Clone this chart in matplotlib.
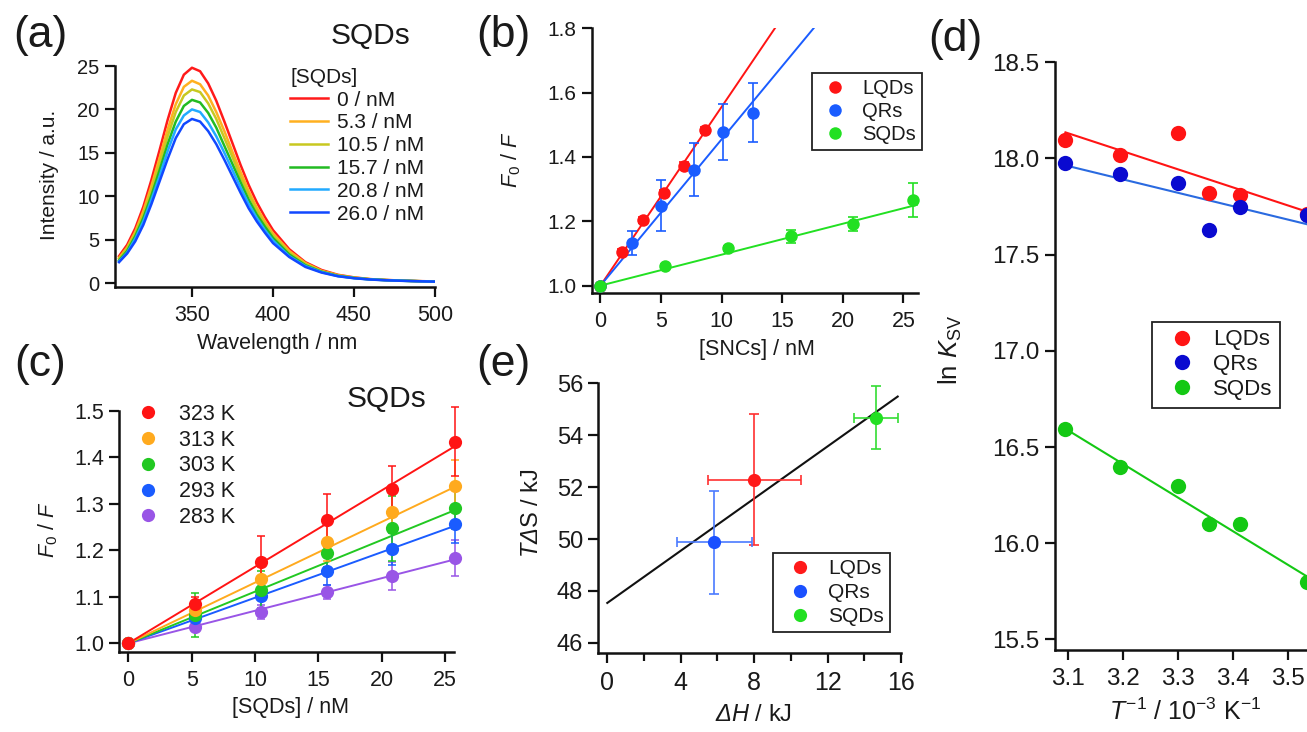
import numpy as np
import matplotlib
matplotlib.use('Agg')
import matplotlib.pyplot as plt
from matplotlib.ticker import MultipleLocator, FormatStrFormatter, FixedLocator

W, H = 1307, 732
plt.rcParams['font.family'] = ['Liberation Sans', 'DejaVu Sans']
plt.rcParams['mathtext.fontset'] = 'custom'
plt.rcParams['mathtext.rm'] = 'Liberation Sans:italic'
plt.rcParams['mathtext.it'] = 'Liberation Sans:italic'
plt.rcParams['mathtext.sf'] = 'Liberation Sans'

# ---------------- data ----------------
# (a) emission spectra of protein with SQDs
wavelength = [305, 310, 315, 320, 325, 330, 335, 340, 345, 350, 355, 360, 365, 370, 375,
              380, 385, 390, 395, 400, 410, 420, 430, 440, 450, 460, 470, 480, 490, 500]
conc_labels_a = ['0 / nM', '5.3 / nM', '10.5 / nM', '15.7 / nM', '20.8 / nM', '26.0 / nM']
intensity_0 = [3.1, 4.4, 6.3, 8.8, 11.9, 15.3, 18.8, 21.9, 24.0, 24.8, 24.4, 23.0, 21.0, 18.6, 16.1,
               13.6, 11.3, 9.3, 7.6, 6.1, 3.9, 2.4, 1.5, 0.95, 0.65, 0.45, 0.35, 0.28, 0.22, 0.18]
intensity_5 = [2.9, 4.1, 5.9, 8.3, 11.2, 14.4, 17.7, 20.6, 22.6, 23.3, 22.9, 21.6, 19.7, 17.5, 15.1,
               12.8, 10.6, 8.7, 7.1, 5.7, 3.7, 2.3, 1.4, 0.9, 0.62, 0.44, 0.34, 0.27, 0.21, 0.17]
intensity_10 = [2.8, 4.0, 5.7, 7.9, 10.7, 13.8, 16.9, 19.7, 21.6, 22.3, 22.0, 20.7, 18.9, 16.7, 14.5,
                12.2, 10.2, 8.4, 6.8, 5.5, 3.5, 2.2, 1.35, 0.88, 0.6, 0.43, 0.33, 0.27, 0.21, 0.17]
intensity_15 = [2.6, 3.7, 5.4, 7.5, 10.1, 13.0, 16.0, 18.6, 20.4, 21.1, 20.8, 19.6, 17.9, 15.8, 13.7,
                11.6, 9.6, 7.9, 6.5, 5.2, 3.3, 2.05, 1.3, 0.83, 0.58, 0.42, 0.33, 0.26, 0.21, 0.17]
intensity_20 = [2.5, 3.5, 5.1, 7.1, 9.6, 12.3, 15.2, 17.7, 19.3, 20.0, 19.7, 18.5, 16.9, 15.0, 13.0,
                11.0, 9.1, 7.5, 6.1, 4.9, 3.1, 1.95, 1.25, 0.8, 0.56, 0.41, 0.32, 0.26, 0.2, 0.16]
intensity_26 = [2.4, 3.4, 4.8, 6.7, 9.1, 11.7, 14.3, 16.7, 18.3, 18.9, 18.6, 17.5, 16.0, 14.2, 12.3,
                10.4, 8.6, 7.1, 5.8, 4.6, 3.0, 1.85, 1.2, 0.78, 0.55, 0.4, 0.31, 0.25, 0.2, 0.16]
spectra = [intensity_0, intensity_5, intensity_10, intensity_15, intensity_20, intensity_26]
colors_a = ['#ff1a1a', '#ffb020', '#c8c820', '#22bb22', '#22aaff', '#1148ff']

# (b) Stern-Volmer plots of three SNCs
names_b = ['LQDs', 'QRs', 'SQDs']
lqd_conc = [0, 1.8, 3.5, 5.2, 6.9, 8.6]
lqd_f0f = [1.0, 1.106, 1.204, 1.287, 1.373, 1.484]
lqd_err = [0.0, 0.008, 0.008, 0.01, 0.01, 0.01]
qr_conc = [0, 2.6, 5.0, 7.7, 10.1, 12.55]
qr_f0f = [1.0, 1.132, 1.249, 1.360, 1.479, 1.538]
qr_err = [0.0, 0.037, 0.079, 0.082, 0.087, 0.093]
sqd_conc = [0, 5.3, 10.5, 15.7, 20.8, 25.8]
sqd_f0f = [1.0, 1.062, 1.116, 1.154, 1.192, 1.266]
sqd_err = [0.0, 0.006, 0.008, 0.02, 0.022, 0.052]
ksv_b = [0.0556, 0.0455, 0.00962]   # fitted slopes (F0/F = 1 + K[Q])
colors_b = ['#ff1414', '#1a5cff', '#22e022']

# (c) SQDs at different temperatures
temps_c = ['323 K', '313 K', '303 K', '293 K', '283 K']
conc_c = [0, 5.3, 10.5, 15.7, 20.8, 25.8]
f0f_323 = [1.0, 1.084, 1.175, 1.264, 1.331, 1.433]
f0f_313 = [1.0, 1.072, 1.138, 1.217, 1.283, 1.338]
f0f_303 = [1.0, 1.061, 1.115, 1.195, 1.247, 1.290]
f0f_293 = [1.0, 1.054, 1.102, 1.155, 1.203, 1.256]
f0f_283 = [1.0, 1.036, 1.067, 1.111, 1.145, 1.184]
err_323 = [0.0, 0.016, 0.055, 0.058, 0.05, 0.074]
err_313 = [0.0, 0.02, 0.025, 0.04, 0.04, 0.056]
err_303 = [0.0, 0.047, 0.04, 0.03, 0.07, 0.045]
err_293 = [0.0, 0.02, 0.03, 0.03, 0.035, 0.04]
err_283 = [0.0, 0.01, 0.015, 0.015, 0.03, 0.039]
f0f_c = [f0f_323, f0f_313, f0f_303, f0f_293, f0f_283]
err_c = [err_323, err_313, err_303, err_293, err_283]
ksv_c = [0.01644, 0.01305, 0.01111, 0.0098, 0.0070]
colors_c = ['#ff1414', '#ffaa1e', '#22c822', '#1a5cff', '#9955e6']

# (d) van't Hoff plots
inv_T = [3.096, 3.195, 3.300, 3.356, 3.413, 3.534]
lnk_lqd = [18.095, 18.017, 18.13, 17.82, 17.81, 17.71]
lnk_qr = [17.974, 17.917, 17.87, 17.627, 17.75, 17.705]
lnk_sqd = [16.595, 16.396, 16.297, 16.10, 16.10, 15.80]
fit_slope_d = [-0.940, -0.697, -1.750]
fit_icpt_d = [21.046, 20.122, 22.013]
colors_d = ['#ff1414', '#0a0ad0', '#14c814']
line_colors_d = ['#ff1414', '#2a6ae0', '#14c814']

# (e) enthalpy-entropy compensation
dH = [8.0, 5.83, 14.62]
dH_err = [2.54, 2.04, 1.2]
TdS = [52.28, 49.87, 54.68]
TdS_err = [2.52, 2.0, 1.2]
fit_slope_e = 0.5025
fit_icpt_e = 47.54
colors_e = ['#ff1a1a', '#1a50ff', '#22e022']
err_colors_e = ['#ff3030', '#4a7aff', '#33dd33']

# ---------------- figure ----------------
fig = plt.figure(figsize=(W / 100, H / 100), dpi=100)
TXT = '#1a1a1a'


def axes_px(l, t, r, b):
    return fig.add_axes([l / W, 1 - b / H, (r - l) / W, (b - t) / H])


def ftext(px, py, s, size, **kw):
    kw.setdefault('ha', 'center')
    kw.setdefault('va', 'center')
    return fig.text(px / W, 1 - py / H, s, fontsize=size, color=TXT, **kw)


def style(ax, xfs, yfs):
    for s in ['top', 'right']:
        ax.spines[s].set_visible(False)
    for s in ['left', 'bottom']:
        ax.spines[s].set_linewidth(1.8)
        ax.spines[s].set_color('#111111')
    ax.tick_params(direction='out', length=7, width=1.6, color='#111111', labelcolor=TXT, pad=4)
    ax.tick_params(axis='x', labelsize=xfs, pad=6)
    ax.tick_params(axis='y', labelsize=yfs)
    ax.patch.set_alpha(0)


def leg_px(ax, handles, labels, px, py, size, **kw):
    leg = ax.legend(handles, labels, loc='upper left', bbox_to_anchor=(px / W, 1 - py / H),
                    bbox_transform=fig.transFigure, borderaxespad=0, fontsize=size,
                    fancybox=False, framealpha=1, edgecolor='#222222', **kw)
    leg.get_frame().set_linewidth(1.3)
    for t in leg.get_texts():
        t.set_color(TXT)
    return leg


# ---- (a)
ax = axes_px(115, 66, 435, 287)
lines = []
for y, c in zip(spectra, colors_a):
    ln, = ax.plot(wavelength, y, color=c, lw=1.8)
    lines.append(ln)
ax.set_xlim(302.5, 500)
ax.set_ylim(-0.46, 25)
ax.xaxis.set_major_locator(FixedLocator([350, 400, 450, 500]))
ax.yaxis.set_major_locator(MultipleLocator(5))
style(ax, 15.5, 14.5)
leg = ax.legend(lines, conc_labels_a, title='[SQDs]', loc='upper left',
                bbox_to_anchor=(290 / W, 1 - 68 / H), bbox_transform=fig.transFigure,
                borderaxespad=0, borderpad=0, frameon=False, fontsize=15, title_fontsize=15,
                handlelength=1.8, handletextpad=0.45, labelspacing=0.18, alignment='left')
for t in leg.get_texts():
    t.set_color(TXT)
leg.get_title().set_color(TXT)
ftext(370, 36, 'SQDs', 21.5)
ftext(50, 175, 'Intensity / a.u.', 15, rotation=90)
ftext(277, 343, 'Wavelength / nm', 15.5)
ftext(40, 36, '(a)', 32)

# ---- (b)
ax = axes_px(592, 28.3, 918, 293)
xx = np.array([0, 26.2])
for k, c in zip(ksv_b, colors_b):
    ax.plot(xx, 1 + k * xx, color=c, lw=1.4, zorder=2)
handles = []
for xs, ys, es, c in zip([lqd_conc, qr_conc, sqd_conc], [lqd_f0f, qr_f0f, sqd_f0f],
                         [lqd_err, qr_err, sqd_err], colors_b):
    ax.errorbar(xs, ys, yerr=es, fmt='none', ecolor=c, elinewidth=1.2, capsize=3.5,
                capthick=1.2, zorder=3, clip_on=False)
    h, = ax.plot(xs, ys, 'o', color=c, ms=9, mec='none', zorder=4, clip_on=False)
    handles.append(h)
ax.set_xlim(-0.7, 26.2)
ax.set_ylim(0.977, 1.8)
ax.xaxis.set_major_locator(MultipleLocator(5))
ax.yaxis.set_major_locator(MultipleLocator(0.2))
ax.yaxis.set_major_formatter(FormatStrFormatter('%.1f'))
style(ax, 15.5, 15)
leg_px(ax, handles, names_b, 811.7, 73.3, 14.5, borderpad=0.3, handlelength=1.75,
       handletextpad=0.45, labelspacing=0.2)
ftext(511, 160, r'$F_\mathsf{0}$ / $F$', 15.5, rotation=90)
ftext(757, 350, '[SNCs] / nM', 15.5)
ftext(503, 36, '(b)', 32)

# ---- (c)
ax = axes_px(119.3, 410.7, 454, 651.7)
xx = np.array([0, 25.8])
handles = []
for i in range(len(temps_c) - 1, -1, -1):
    ax.plot(xx, 1 + ksv_c[i] * xx, color=colors_c[i], lw=1.4, zorder=2)
for i in range(len(temps_c) - 1, -1, -1):
    c = colors_c[i]
    ax.errorbar(conc_c, f0f_c[i], yerr=err_c[i], fmt='none', ecolor=c, elinewidth=1.1,
                capsize=3, capthick=1.1, zorder=3, clip_on=False)
    h, = ax.plot(conc_c, f0f_c[i], 'o', color=c, ms=9.5, mec='none', zorder=4, clip_on=False)
    handles.insert(0, h)
ax.set_xlim(-0.71, 25.7)
ax.set_ylim(0.982, 1.5)
ax.xaxis.set_major_locator(MultipleLocator(5))
ax.yaxis.set_major_locator(MultipleLocator(0.1))
ax.yaxis.set_major_formatter(FormatStrFormatter('%.1f'))
style(ax, 15.5, 15.5)
leg = ax.legend(handles, temps_c, loc='upper left', bbox_to_anchor=(137.5 / W, 1 - 404 / H),
                bbox_transform=fig.transFigure, borderaxespad=0, borderpad=0, frameon=False,
                fontsize=15.5, handlelength=1.0, handletextpad=0.94, labelspacing=0.22)
for t in leg.get_texts():
    t.set_color(TXT)
ftext(386, 399, 'SQDs', 21.5)
ftext(48, 530, r'$F_\mathsf{0}$ / $F$', 15.5, rotation=90)
ftext(290, 708, '[SQDs] / nM', 15.5)
ftext(40, 365, '(c)', 32)

# ---- (e)
ax = axes_px(598.3, 383.3, 901, 653.3)
xx = np.array([0, 15.82])
ax.plot(xx, fit_icpt_e + fit_slope_e * xx, color='#111111', lw=1.5, zorder=2)
handles = []
for i in range(3):
    ax.errorbar(dH[i], TdS[i], xerr=dH_err[i], yerr=TdS_err[i], fmt='none',
                ecolor=err_colors_e[i], elinewidth=1.2, capsize=3.5, capthick=1.2, zorder=3)
    h, = ax.plot([dH[i]], [TdS[i]], 'o', color=colors_e[i], ms=9.5, mec='none', zorder=4)
    handles.append(h)
ax.set_xlim(-0.49, 16)
ax.set_ylim(45.6, 56)
ax.xaxis.set_major_locator(MultipleLocator(4))
ax.xaxis.set_minor_locator(MultipleLocator(2))
ax.yaxis.set_major_locator(MultipleLocator(2))
style(ax, 18, 17)
ax.tick_params(which='minor', direction='out', length=6, width=1.6, color='#111111')
leg_px(ax, handles, names_b, 772.7, 552.7, 15, borderpad=0.3, handlelength=2.0,
       handletextpad=0.35, labelspacing=0.24)
ftext(532, 513, r'$T\Delta$S / kJ', 17, rotation=90)
ftext(753, 715, r'$\Delta H$ / kJ', 17)
ftext(503, 365, '(e)', 32)

# ---- (d)
ax = axes_px(1055, 62.3, 1333, 650)
xx = np.array([inv_T[0], inv_T[-1]])
for s, b, c in zip(fit_slope_d, fit_icpt_d, line_colors_d):
    ax.plot(xx, b + s * xx, color=c, lw=1.5, zorder=2)
handles = []
for ys, c in zip([lnk_lqd, lnk_qr, lnk_sqd], colors_d):
    h, = ax.plot(inv_T, ys, 'o', color=c, ms=11, mec='none', zorder=4, clip_on=False)
    handles.append(h)
ax.set_xlim(3.077, 3.582)
ax.set_ylim(15.445, 18.5)
ax.xaxis.set_major_locator(FixedLocator([3.1, 3.2, 3.3, 3.4, 3.5]))
ax.xaxis.set_major_formatter(FormatStrFormatter('%.1f'))
ax.yaxis.set_major_locator(MultipleLocator(0.5))
ax.yaxis.set_major_formatter(FormatStrFormatter('%.1f'))
style(ax, 17.5, 17.5)
leg_px(ax, handles, names_b, 1151.7, 321.7, 16, borderpad=0.35, handlelength=2.0,
       handletextpad=0.4, labelspacing=0.17)
ftext(950, 350, r'ln $K_\mathsf{SV}$', 18.5, rotation=90)
ftext(1185, 712, r'$T^\mathsf{-1}$ / 10$^\mathsf{-3}$ K$^\mathsf{-1}$', 18)
ftext(955, 40, '(d)', 32)

fig.savefig('out.png', dpi=100)
